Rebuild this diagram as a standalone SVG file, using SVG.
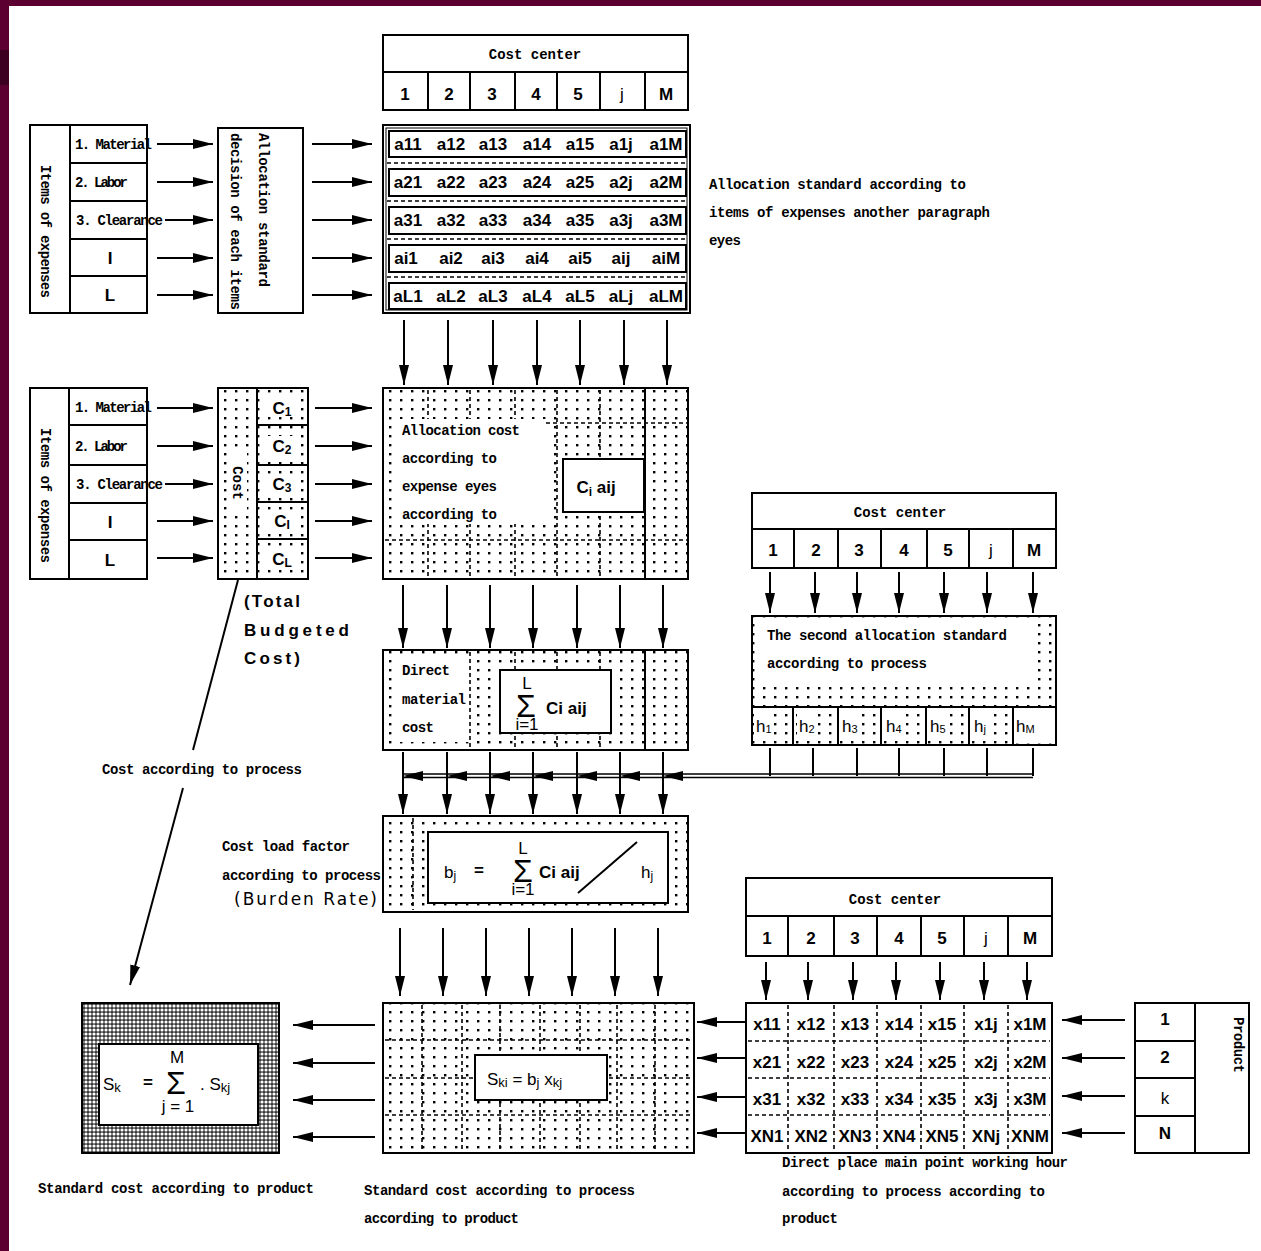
<svg xmlns="http://www.w3.org/2000/svg" width="1261" height="1251" viewBox="0 0 1261 1251">
<defs>
<style>
.box{fill:#fff;stroke:#000;stroke-width:2}
.dot{fill:url(#dots);stroke:#000;stroke-width:2}
.ln{fill:none;stroke:#000;stroke-width:2}
.dl{fill:none;stroke:#000;stroke-width:1.6;stroke-dasharray:4 3}
.tm{font-family:"Liberation Mono","DejaVu Sans Mono",monospace;font-size:14px;font-weight:bold;fill:#000}
.nb{font-family:"Liberation Sans",Arial,sans-serif;font-size:17px;font-weight:bold;fill:#000}
.nr{font-family:"Liberation Sans",Arial,sans-serif;font-size:17px;fill:#000}
.c{text-anchor:middle}
.arr line{stroke:#000;stroke-width:2;marker-end:url(#ah)}
.sig{font-family:"Liberation Sans",Arial,sans-serif;font-size:32px;fill:#000;text-anchor:middle}
</style>
<marker id="ah" viewBox="0 0 20 10" refX="20" refY="5" markerWidth="20" markerHeight="10" markerUnits="userSpaceOnUse" orient="auto"><path d="M0,0 L20,5 L0,10 z" fill="#000"/></marker>
<pattern id="dots" width="11" height="9" patternUnits="userSpaceOnUse"><rect width="11" height="9" fill="#fff"/><rect x="4" y="3" width="2.4" height="2.4" fill="#000"/></pattern>
<pattern id="dense" width="4" height="4" patternUnits="userSpaceOnUse"><rect width="4" height="4" fill="#3a3a3a"/><circle cx="2" cy="2" r="1.55" fill="#fff"/></pattern>
</defs>

<!-- frame -->
<rect x="0" y="0" width="1261" height="1251" fill="#5c0031"/>
<rect x="9" y="6" width="1252" height="1245" fill="#fff"/>
<rect x="0" y="50" width="9" height="35" fill="#3d0020"/>

<!-- Section 1 -->
<g id="items1">
<rect class="box" x="30" y="125" width="117" height="188"/>
<path class="ln" d="M70,125V313 M70,163H147 M70,201H147 M70,239H147 M70,276H147"/>
<text class="tm" transform="translate(45,165) rotate(90)" dominant-baseline="central" textLength="133">Items of expenses</text>
<text class="tm" x="75" y="149" textLength="77">1. Material</text>
<text class="tm" x="75" y="187" textLength="53">2. Labor</text>
<text class="tm" x="76" y="225" textLength="87">3. Clearance</text>
<text class="nb c" x="110" y="264">I</text>
<text class="nb c" x="110" y="301">L</text>
</g>

<g id="alloc1">
<rect class="box" x="218" y="128" width="85" height="185"/>
<text class="tm" transform="translate(263,133) rotate(90)" dominant-baseline="central" textLength="154">Allocation standard</text>
<text class="tm" transform="translate(235,133) rotate(90)" dominant-baseline="central" textLength="177">decision of each items</text>
</g>

<g id="cc1">
<rect class="box" x="383" y="35" width="305" height="37"/>
<rect class="box" x="383" y="72" width="305" height="38"/>
<path class="ln" d="M428,72V110 M470,72V110 M515,72V110 M557,72V110 M600,72V110 M645,72V110"/>
<text class="tm c" x="535" y="59">Cost center</text>
<g class="nb c">
<text x="405" y="100">1</text><text x="449" y="100">2</text><text x="492" y="100">3</text><text x="536" y="100">4</text><text x="578" y="100">5</text><text x="622" y="100" font-weight="normal">j</text><text x="666" y="100">M</text>
</g>
</g>

<g id="matrixA">
<rect class="box" x="383" y="125" width="307" height="188"/>
<rect x="386" y="128" width="301" height="182" fill="none" stroke="#000" stroke-width="1"/>
<path class="dl" d="M387,163H687 M387,201H687 M387,239H687 M387,277H687" stroke-width="2.2" stroke-dasharray="3 3"/>
<rect class="box" x="389" y="131" width="297" height="26"/>
<rect class="box" x="389" y="169" width="297" height="27"/>
<rect class="box" x="389" y="207" width="297" height="27"/>
<rect class="box" x="389" y="245" width="297" height="27"/>
<rect class="box" x="389" y="283" width="297" height="26"/>
<g class="nb c">
<text x="408" y="150">a11</text><text x="451" y="150">a12</text><text x="493" y="150">a13</text><text x="537" y="150">a14</text><text x="580" y="150">a15</text><text x="621" y="150">a1j</text><text x="666" y="150">a1M</text>
<text x="408" y="188">a21</text><text x="451" y="188">a22</text><text x="493" y="188">a23</text><text x="537" y="188">a24</text><text x="580" y="188">a25</text><text x="621" y="188">a2j</text><text x="666" y="188">a2M</text>
<text x="408" y="226">a31</text><text x="451" y="226">a32</text><text x="493" y="226">a33</text><text x="537" y="226">a34</text><text x="580" y="226">a35</text><text x="621" y="226">a3j</text><text x="666" y="226">a3M</text>
<text x="406" y="264">ai1</text><text x="451" y="264">ai2</text><text x="493" y="264">ai3</text><text x="537" y="264">ai4</text><text x="580" y="264">ai5</text><text x="621" y="264">aij</text><text x="666" y="264">aiM</text>
<text x="408" y="302">aL1</text><text x="451" y="302">aL2</text><text x="493" y="302">aL3</text><text x="537" y="302">aL4</text><text x="580" y="302">aL5</text><text x="621" y="302">aLj</text><text x="666" y="302">aLM</text>
</g>
</g>

<g id="note1">
<text class="tm" x="709" y="189" textLength="257">Allocation standard according to</text>
<text class="tm" x="709" y="217" textLength="281">items of expenses another paragraph</text>
<text class="tm" x="709" y="245" textLength="32">eyes</text>
</g>

<!-- Section 2 -->
<g id="items2">
<rect class="box" x="30" y="388" width="117" height="191"/>
<path class="ln" d="M69,388V579 M69,425H147 M69,465H147 M69,503H147 M69,540H147"/>
<text class="tm" transform="translate(45,428) rotate(90)" dominant-baseline="central" textLength="135">Items of expenses</text>
<text class="tm" x="75" y="412" textLength="77">1. Material</text>
<text class="tm" x="75" y="451" textLength="53">2. Labor</text>
<text class="tm" x="76" y="489" textLength="87">3. Clearance</text>
<text class="nb c" x="110" y="528">I</text>
<text class="nb c" x="110" y="566">L</text>
</g>

<g id="cost">
<rect class="dot" x="218" y="388" width="90" height="191"/>
<path class="ln" d="M257,388V579 M257,425H308 M257,465H308 M257,502H308 M257,539H308"/>
<rect x="228" y="452" width="19" height="62" fill="#fff"/>
<text class="tm c" transform="translate(237,483) rotate(90)" dominant-baseline="central" font-weight="normal">Cost</text>
<rect x="266" y="397" width="32" height="20" fill="#fff"/>
<rect x="266" y="436" width="32" height="20" fill="#fff"/>
<rect x="266" y="474" width="32" height="20" fill="#fff"/>
<rect x="266" y="511" width="32" height="20" fill="#fff"/>
<rect x="266" y="549" width="32" height="20" fill="#fff"/>
<g class="nb c">
<text x="282" y="414">C<tspan font-size="12" dy="2">1</tspan></text>
<text x="282" y="452">C<tspan font-size="12" dy="2">2</tspan></text>
<text x="282" y="490">C<tspan font-size="12" dy="2">3</tspan></text>
<text x="282" y="527">C<tspan font-size="12" dy="2">I</tspan></text>
<text x="282" y="565">C<tspan font-size="12" dy="2">L</tspan></text>
</g>
</g>

<g id="total">
<text class="nb" x="244" y="607" font-size="18" textLength="56">(Total</text>
<text class="nb" x="244" y="636" font-size="18" textLength="105">Budgeted</text>
<text class="nb" x="244" y="664" font-size="18" textLength="56">Cost)</text>
</g>

<g id="matrixC">
<rect class="dot" x="383" y="388" width="305" height="191"/>
<path class="dl" d="M428,390V577 M470,390V577 M515,390V577 M557,390V577 M600,390V577 M546,423H687 M385,540H687"/>
<path class="ln" d="M645,389V578" stroke-width="1.5"/>
<rect x="394" y="419" width="152" height="105" fill="#fff"/>
<text class="tm" x="402" y="435" textLength="118">Allocation cost</text>
<text class="tm" x="402" y="463" textLength="95">according to</text>
<text class="tm" x="402" y="491" textLength="95">expense eyes</text>
<text class="tm" x="402" y="519" textLength="95">according to</text>
<rect class="box" x="563" y="459" width="81" height="53"/>
<text class="nb c" x="596" y="493">C<tspan font-size="12" dy="3">i</tspan><tspan dy="-3"> aij</tspan></text>
</g>

<g id="direct">
<rect class="dot" x="383" y="650" width="305" height="100"/>
<path class="dl" d="M470,652V748 M515,652V748 M557,652V748 M600,652V748"/>
<path class="ln" d="M645,651V749" stroke-width="1.5"/>
<rect x="394" y="656" width="75" height="86" fill="#fff"/>
<text class="tm" x="402" y="675" textLength="48">Direct</text>
<text class="tm" x="402" y="704" textLength="64">material</text>
<text class="tm" x="402" y="732" textLength="32">cost</text>
<rect class="box" x="500" y="670" width="111" height="63"/>
<text class="sig" x="526" y="717">Σ<tspan class="nr" x="527" y="689" font-size="11">L</tspan><tspan class="nr" x="527" y="730" font-size="8">i=1</tspan></text>
<text class="nb" x="546" y="714">Ci aij</text>
</g>

<g id="burden">
<rect class="dot" x="383" y="816" width="305" height="96"/>
<path class="dl" d="M413,818V910"/>
<rect class="box" x="428" y="832" width="240" height="71"/>
<text class="nr" x="444" y="878">b<tspan font-size="12" dy="2">j</tspan></text>
<text class="nb" x="474" y="876" font-size="12">=</text>
<text class="sig" x="523" y="882">Σ<tspan class="nr" x="523" y="854" font-size="11">L</tspan><tspan class="nr" x="523" y="895" font-size="8">i=1</tspan></text>
<text class="nb" x="539" y="878">Ci aij</text>
<line x1="578" y1="893" x2="637" y2="842" stroke="#000" stroke-width="2"/>
<text class="nr" x="641" y="878">h<tspan font-size="12" dy="2">j</tspan></text>
</g>

<g id="burdenLabel">
<text class="tm" x="222" y="851" textLength="128">Cost load factor</text>
<text class="tm" x="222" y="880" textLength="159">according to process</text>
<text x="234" y="905" font-family="DejaVu Sans, sans-serif" font-size="17" textLength="143">(Burden Rate)</text>
</g>

<g id="cc2">
<rect class="box" x="752" y="493" width="304" height="36"/>
<rect class="box" x="752" y="529" width="304" height="39"/>
<path class="ln" d="M794,529V568 M838,529V568 M881,529V568 M927,529V568 M969,529V568 M1013,529V568"/>
<text class="tm c" x="900" y="517">Cost center</text>
<g class="nb c">
<text x="773" y="556">1</text><text x="816" y="556">2</text><text x="859" y="556">3</text><text x="904" y="556">4</text><text x="948" y="556">5</text><text x="991" y="556" font-weight="normal">j</text><text x="1034" y="556">M</text>
</g>
</g>

<g id="second">
<rect class="dot" x="752" y="616" width="304" height="129"/>
<rect x="757" y="621" width="278" height="62" fill="#fff"/>
<text class="tm" x="767" y="640" textLength="240">The second allocation standard</text>
<text class="tm" x="767" y="668" textLength="160">according to process</text>
<path class="ln" d="M752,707H1056 M793,707V745 M838,707V745 M881,707V745 M926,707V745 M969,707V745 M1013,707V745"/>
<g fill="#fff">
<rect x="754" y="714" width="20" height="22"/><rect x="797" y="714" width="20" height="22"/><rect x="840" y="714" width="20" height="22"/><rect x="884" y="714" width="20" height="22"/><rect x="928" y="714" width="20" height="22"/><rect x="972" y="714" width="14" height="22"/><rect x="1015" y="710" width="39" height="33"/>
</g>
<g class="nr">
<text x="756" y="732">h<tspan font-size="11" dy="1">1</tspan></text>
<text x="799" y="732">h<tspan font-size="11" dy="1">2</tspan></text>
<text x="842" y="732">h<tspan font-size="11" dy="1">3</tspan></text>
<text x="886" y="732">h<tspan font-size="11" dy="1">4</tspan></text>
<text x="930" y="732">h<tspan font-size="11" dy="1">5</tspan></text>
<text x="974" y="732">h<tspan font-size="11" dy="1">j</tspan></text>
<text x="1016" y="732">h<tspan font-size="11" dy="1">M</tspan></text>
</g>
</g>

<g id="cc3">
<rect class="box" x="746" y="878" width="306" height="38"/>
<rect class="box" x="746" y="916" width="306" height="40"/>
<path class="ln" d="M788,916V956 M834,916V956 M877,916V956 M921,916V956 M964,916V956 M1008,916V956"/>
<text class="tm c" x="895" y="904">Cost center</text>
<g class="nb c">
<text x="767" y="944">1</text><text x="811" y="944">2</text><text x="855" y="944">3</text><text x="899" y="944">4</text><text x="942" y="944">5</text><text x="986" y="944" font-weight="normal">j</text><text x="1030" y="944">M</text>
</g>
</g>

<g id="xmatrix">
<rect class="box" x="746" y="1003" width="306" height="150"/>
<path class="dl" d="M788,1005V1151 M834,1005V1151 M877,1005V1151 M921,1005V1151 M964,1005V1151 M1008,1005V1151 M748,1041H1050 M748,1078H1050 M748,1115H1050" stroke-width="2"/>
<g class="nb c" font-size="15">
<text x="767" y="1030">x11</text><text x="811" y="1030">x12</text><text x="855" y="1030">x13</text><text x="899" y="1030">x14</text><text x="942" y="1030">x15</text><text x="986" y="1030">x1j</text><text x="1030" y="1030">x1M</text>
<text x="767" y="1068">x21</text><text x="811" y="1068">x22</text><text x="855" y="1068">x23</text><text x="899" y="1068">x24</text><text x="942" y="1068">x25</text><text x="986" y="1068">x2j</text><text x="1030" y="1068">x2M</text>
<text x="767" y="1105">x31</text><text x="811" y="1105">x32</text><text x="855" y="1105">x33</text><text x="899" y="1105">x34</text><text x="942" y="1105">x35</text><text x="986" y="1105">x3j</text><text x="1030" y="1105">x3M</text>
<text x="767" y="1142">XN1</text><text x="811" y="1142">XN2</text><text x="855" y="1142">XN3</text><text x="899" y="1142">XN4</text><text x="942" y="1142">XN5</text><text x="986" y="1142">XNj</text><text x="1030" y="1142">XNM</text>
</g>
</g>

<g id="product">
<rect class="box" x="1135" y="1003" width="114" height="150"/>
<path class="ln" d="M1195,1003V1153 M1135,1041H1195 M1135,1078H1195 M1135,1116H1195"/>
<g class="nb c">
<text x="1165" y="1025">1</text><text x="1165" y="1063">2</text><text x="1165" y="1104" font-weight="normal">k</text><text x="1165" y="1139">N</text>
</g>
<text class="tm" transform="translate(1238,1017) rotate(90)" dominant-baseline="central" font-weight="normal" textLength="56">Product</text>
</g>

<g id="matrixS">
<rect class="dot" x="383" y="1003" width="311" height="150"/>
<path class="dl" d="M422,1005V1151 M462,1005V1151 M500,1005V1151 M540,1005V1151 M580,1005V1151 M617,1005V1151 M655,1005V1151 M385,1040H692 M385,1078H692 M385,1115H692"/>
<rect class="box" x="475" y="1055" width="132" height="45"/>
<text class="nr" x="487" y="1085" font-size="19">S<tspan font-size="13" dy="2">ki</tspan><tspan dy="-2"> = b</tspan><tspan font-size="13" dy="2">j</tspan><tspan dy="-2"> x</tspan><tspan font-size="13" dy="2">kj</tspan></text>
</g>

<g id="sbox">
<rect x="82" y="1003" width="197" height="150" fill="url(#dense)" stroke="#000" stroke-width="2"/>
<rect class="box" x="99" y="1044" width="159" height="81"/>
<text class="nr" x="103" y="1090" font-size="19">S<tspan font-size="13" dy="2">k</tspan></text>
<text class="nb" x="143" y="1088" font-size="12">=</text>
<text class="sig" x="176" y="1094" font-size="34">Σ<tspan class="nr" x="177" y="1063" font-size="12">M</tspan><tspan class="nr" x="178" y="1112" font-size="11">j = 1</tspan></text>
<text class="nr" x="200" y="1090" font-size="19">. S<tspan font-size="13" dy="2">kj</tspan></text>
</g>

<g id="labels">
<text class="tm" x="102" y="774" textLength="200">Cost according to process</text>
<text class="tm" x="38" y="1193" textLength="276">Standard cost according to product</text>
<text class="tm" x="364" y="1195" textLength="271">Standard cost according to process</text>
<text class="tm" x="364" y="1223" textLength="155">according to product</text>
<text class="tm" x="782" y="1167" textLength="286">Direct place main point working hour</text>
<text class="tm" x="782" y="1196" textLength="263">according to process according to</text>
<text class="tm" x="782" y="1223" textLength="56">product</text>
</g>

<g id="connectors" class="arr">
<line x1="157" y1="144" x2="213" y2="144"/><line x1="157" y1="182" x2="213" y2="182"/><line x1="165" y1="220" x2="213" y2="220"/><line x1="157" y1="258" x2="213" y2="258"/><line x1="157" y1="295" x2="213" y2="295"/>
<line x1="312" y1="144" x2="372" y2="144"/><line x1="312" y1="182" x2="372" y2="182"/><line x1="312" y1="220" x2="372" y2="220"/><line x1="312" y1="258" x2="372" y2="258"/><line x1="312" y1="295" x2="372" y2="295"/>
<line x1="404" y1="320" x2="404" y2="385"/><line x1="448" y1="320" x2="448" y2="385"/><line x1="493" y1="320" x2="493" y2="385"/><line x1="537" y1="320" x2="537" y2="385"/><line x1="580" y1="320" x2="580" y2="385"/><line x1="624" y1="320" x2="624" y2="385"/><line x1="667" y1="320" x2="667" y2="385"/>
<line x1="157" y1="408" x2="213" y2="408"/><line x1="157" y1="446" x2="213" y2="446"/><line x1="165" y1="484" x2="213" y2="484"/><line x1="157" y1="521" x2="213" y2="521"/><line x1="157" y1="558" x2="213" y2="558"/>
<line x1="315" y1="408" x2="372" y2="408"/><line x1="315" y1="446" x2="372" y2="446"/><line x1="315" y1="484" x2="372" y2="484"/><line x1="315" y1="521" x2="372" y2="521"/><line x1="315" y1="558" x2="372" y2="558"/>
<line x1="403" y1="585" x2="403" y2="648"/><line x1="447" y1="585" x2="447" y2="648"/><line x1="490" y1="585" x2="490" y2="648"/><line x1="533" y1="585" x2="533" y2="648"/><line x1="577" y1="585" x2="577" y2="648"/><line x1="620" y1="585" x2="620" y2="648"/><line x1="663" y1="585" x2="663" y2="648"/>
<line x1="403" y1="752" x2="403" y2="814"/><line x1="447" y1="752" x2="447" y2="814"/><line x1="490" y1="752" x2="490" y2="814"/><line x1="533" y1="752" x2="533" y2="814"/><line x1="577" y1="752" x2="577" y2="814"/><line x1="620" y1="752" x2="620" y2="814"/><line x1="663" y1="752" x2="663" y2="814"/>
<line x1="770" y1="572" x2="770" y2="613"/><line x1="815" y1="572" x2="815" y2="613"/><line x1="857" y1="572" x2="857" y2="613"/><line x1="899" y1="572" x2="899" y2="613"/><line x1="944" y1="572" x2="944" y2="613"/><line x1="987" y1="572" x2="987" y2="613"/><line x1="1033" y1="572" x2="1033" y2="613"/>
<line x1="400" y1="928" x2="400" y2="996"/><line x1="443" y1="928" x2="443" y2="996"/><line x1="486" y1="928" x2="486" y2="996"/><line x1="529" y1="928" x2="529" y2="996"/><line x1="572" y1="928" x2="572" y2="996"/><line x1="615" y1="928" x2="615" y2="996"/><line x1="658" y1="928" x2="658" y2="996"/>
<line x1="766" y1="962" x2="766" y2="1000"/><line x1="808" y1="962" x2="808" y2="1000"/><line x1="853" y1="962" x2="853" y2="1000"/><line x1="896" y1="962" x2="896" y2="1000"/><line x1="940" y1="962" x2="940" y2="1000"/><line x1="984" y1="962" x2="984" y2="1000"/><line x1="1027" y1="962" x2="1027" y2="1000"/>
<line x1="1125" y1="1020" x2="1062" y2="1020"/><line x1="1125" y1="1058" x2="1062" y2="1058"/><line x1="1125" y1="1096" x2="1062" y2="1096"/><line x1="1125" y1="1133" x2="1062" y2="1133"/>
<line x1="745" y1="1022" x2="697" y2="1022"/><line x1="745" y1="1058" x2="697" y2="1058"/><line x1="745" y1="1097" x2="697" y2="1097"/><line x1="745" y1="1133" x2="697" y2="1133"/>
<line x1="375" y1="1025" x2="293" y2="1025"/><line x1="375" y1="1063" x2="293" y2="1063"/><line x1="375" y1="1100" x2="293" y2="1100"/><line x1="375" y1="1137" x2="293" y2="1137"/>
<path d="M238,580 L193,750" fill="none" stroke="#000" stroke-width="2"/>
<line x1="183" y1="788" x2="130" y2="985"/>
<path d="M403,774H1033 M403,777.5H1033" fill="none" stroke="#000" stroke-width="1.5"/>
<path d="M770,748V776 M813,748V776 M857,748V776 M899,748V776 M944,748V776 M987,748V776 M1033,748V776" fill="none" stroke="#000" stroke-width="2"/>
<path d="M403,776l20,-5v10z M447,776l20,-5v10z M490,776l20,-5v10z M533,776l20,-5v10z M577,776l20,-5v10z M620,776l20,-5v10z M663,776l20,-5v10z" fill="#000"/>
</g>
</svg>
